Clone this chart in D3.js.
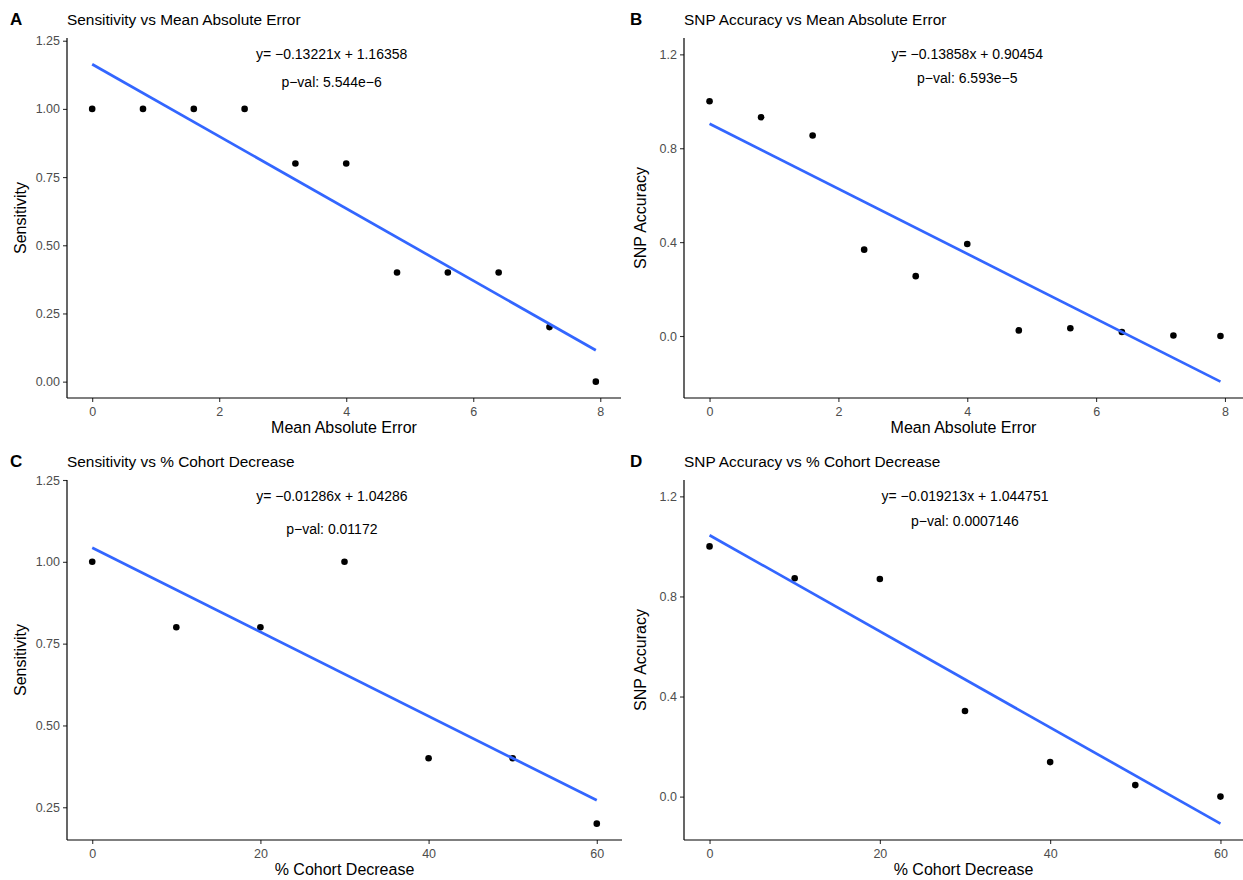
<!DOCTYPE html>
<html>
<head>
<meta charset="utf-8">
<script src="https://cdn.jsdelivr.net/npm/d3@7"></script>
<style>
  body { margin: 0; background: #fff; }
  svg { font-family: 'Liberation Sans', Arial, Helvetica, sans-serif; }
</style>
</head>
<body>
<div id="chart"></div>
<script>
// mean absolute error runs (panels A, B)
const maeX = [0, 0.8, 1.6, 2.4, 3.2, 4.0, 4.8, 5.6, 6.4, 7.2, 7.93];
const sensMae = [1, 1, 1, 1, 0.8, 0.8, 0.4, 0.4, 0.4, 0.2, 0];
const snpMae = [1.0, 0.932, 0.854, 0.368, 0.255, 0.392, 0.024, 0.033, 0.017, 0.002, 0.0];

// cohort decrease runs (panels C, D)
const cohortX = [0, 10, 20, 30, 40, 50, 60];
const sensCohort = [1, 0.8, 0.8, 1, 0.4, 0.4, 0.2];
const snpCohort = [1.0, 0.873, 0.870, 0.342, 0.138, 0.046, 0.0];

// fitted lines, as printed on the plots
const fits = {
  A: { slope: -0.13221, intercept: 1.16358, eq: 'y= \u22120.13221x + 1.16358', p: 'p\u2212val: 5.544e\u22126' },
  B: { slope: -0.13858, intercept: 0.90454, eq: 'y= \u22120.13858x + 0.90454', p: 'p\u2212val: 6.593e\u22125' },
  C: { slope: -0.01286, intercept: 1.04286, eq: 'y= \u22120.01286x + 1.04286', p: 'p\u2212val: 0.01172' },
  D: { slope: -0.019213, intercept: 1.044751, eq: 'y= \u22120.019213x + 1.044751', p: 'p\u2212val: 0.0007146' }
};

// tick values
const maeTicks = [0, 2, 4, 6, 8];
const cohortTicks = [0, 20, 40, 60];
const sensTicksA = [0, 0.25, 0.5, 0.75, 1.0, 1.25];
const sensTicksC = [0.25, 0.5, 0.75, 1.0, 1.25];
const snpTicks = [0, 0.4, 0.8, 1.2];

const panels = [
  { tag: 'A', title: 'Sensitivity vs Mean Absolute Error', xs: maeX, ys: sensMae, xTicks: maeTicks, yTicks: sensTicksA, yFmt: '.2f',
    xlab: 'Mean Absolute Error', ylab: 'Sensitivity', left: 67, right: 621, top: 38, bottom: 398, ox: 0, annX: 3.77 },
  { tag: 'B', title: 'SNP Accuracy vs Mean Absolute Error', xs: maeX, ys: snpMae, xTicks: maeTicks, yTicks: snpTicks, yFmt: '.1f',
    xlab: 'Mean Absolute Error', ylab: 'SNP Accuracy', left: 684, right: 1246, top: 38, bottom: 398, ox: 620, annX: 4 },
  { tag: 'C', title: 'Sensitivity vs % Cohort Decrease', xs: cohortX, ys: sensCohort, xTicks: cohortTicks, yTicks: sensTicksC, yFmt: '.2f',
    xlab: '% Cohort Decrease', ylab: 'Sensitivity', left: 67, right: 622, top: 480, bottom: 840, ox: 0, annX: 28.5 },
  { tag: 'D', title: 'SNP Accuracy vs % Cohort Decrease', xs: cohortX, ys: snpCohort, xTicks: cohortTicks, yTicks: snpTicks, yFmt: '.1f',
    xlab: '% Cohort Decrease', ylab: 'SNP Accuracy', left: 684, right: 1246, top: 480, bottom: 840, ox: 620, annX: 30 }
];

const eqY = 1.2, pY = 1.1;

const svg = d3.select('#chart').append('svg').attr('width', 1243).attr('height', 880);

// ggplot style 5% padding
function expand(lo, hi) {
  const d = (hi - lo) * 0.05;
  return [lo - d, hi + d];
}

panels.forEach(function (p) {
  const fit = fits[p.tag];
  const xExt = d3.extent(p.xs);
  const lineY = xExt.map(function (x) { return fit.intercept + fit.slope * x; });
  const yAll = p.ys.concat(lineY, [eqY, pY]);

  const x = d3.scaleLinear().domain(expand(xExt[0], xExt[1])).range([p.left, p.right]);
  const y = d3.scaleLinear().domain(expand(d3.min(yAll), d3.max(yAll))).range([p.bottom, p.top]);

  const g = svg.append('g');

  // axes
  const xAxis = d3.axisBottom(x).tickValues(p.xTicks).tickSize(4).tickPadding(3).tickFormat(d3.format('d'));
  const yAxis = d3.axisLeft(y).tickValues(p.yTicks).tickSize(4).tickPadding(3).tickFormat(d3.format(p.yFmt));

  const gx = g.append('g').attr('transform', 'translate(0,' + p.bottom + ')').call(xAxis);
  const gy = g.append('g').attr('transform', 'translate(' + p.left + ',0)').call(yAxis);
  [gx, gy].forEach(function (a) {
    a.select('.domain').remove();
    a.selectAll('.tick line').attr('stroke', '#333').attr('stroke-width', 1.1);
    a.selectAll('.tick text').attr('fill', '#4d4d4d').style('font-size', '12.5px').style('font-family', null);
  });
  gx.selectAll('.tick text').attr('dy', '0.85em');
  g.append('line').attr('x1', p.left).attr('x2', p.right).attr('y1', p.bottom).attr('y2', p.bottom)
    .attr('stroke', '#000').attr('stroke-width', 1.2);
  g.append('line').attr('x1', p.left).attr('x2', p.left).attr('y1', p.top).attr('y2', p.bottom)
    .attr('stroke', '#000').attr('stroke-width', 1.2);

  // points
  g.selectAll('circle.pt')
    .data(p.xs.map(function (v, i) { return [v, p.ys[i]]; }))
    .enter()
    .append('circle')
    .attr('class', 'pt')
    .attr('cx', function (d) { return x(d[0]); })
    .attr('cy', function (d) { return y(d[1]); })
    .attr('r', 3.3)
    .attr('fill', '#000');

  // fitted line
  g.append('path')
    .datum(xExt.map(function (v, i) { return [v, lineY[i]]; }))
    .attr('d', d3.line().x(function (d) { return x(d[0]); }).y(function (d) { return y(d[1]); }))
    .attr('fill', 'none')
    .attr('stroke', '#3366ff')
    .attr('stroke-width', 2.7);

  // annotations
  g.append('text').attr('x', x(p.annX)).attr('y', y(eqY)).attr('dy', '0.35em')
    .attr('text-anchor', 'middle').style('font-size', '14px').text(fit.eq);
  g.append('text').attr('x', x(p.annX)).attr('y', y(pY)).attr('dy', '0.35em')
    .attr('text-anchor', 'middle').style('font-size', '14px').text(fit.p);

  // titles and labels
  g.append('text').attr('x', p.ox + 10).attr('y', p.top - 13)
    .style('font-size', '17px').style('font-weight', 'bold').text(p.tag);
  g.append('text').attr('x', p.left).attr('y', p.top - 13)
    .style('font-size', '15.4px').text(p.title);
  g.append('text').attr('x', (p.left + Math.min(p.right, 1243)) / 2).attr('y', p.bottom + 35)
    .attr('text-anchor', 'middle').style('font-size', '16px').text(p.xlab);
  g.append('text')
    .attr('transform', 'translate(' + (p.ox + 26) + ',' + ((p.top + p.bottom) / 2) + ') rotate(-90)')
    .attr('text-anchor', 'middle').style('font-size', '16px').text(p.ylab);
});
</script>
</body>
</html>
